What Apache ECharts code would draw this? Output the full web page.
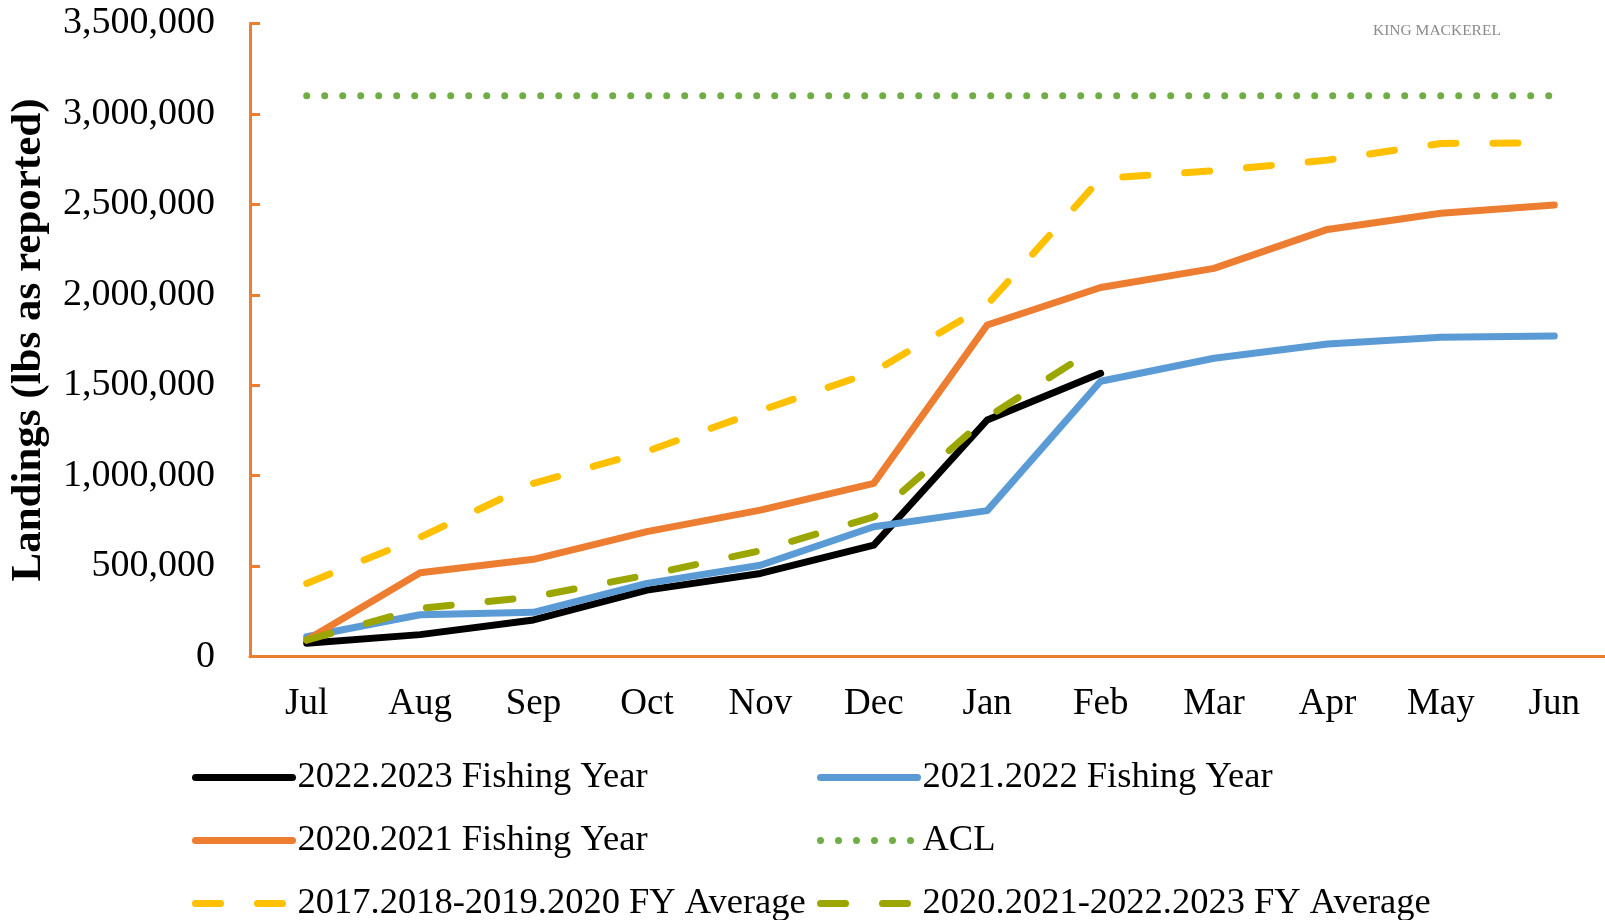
<!DOCTYPE html>
<html>
<head>
<meta charset="utf-8">
<title>King Mackerel Landings</title>
<script src="https://cdn.jsdelivr.net/npm/echarts@6/dist/echarts.min.js"></script>
<style>
  html, body { margin: 0; padding: 0; background: #fff; }
  #main { width: 1605px; height: 920px; }
</style>
</head>
<body>
<div id="main"></div>
<script>
// months of the fishing year
var months = ['Jul', 'Aug', 'Sep', 'Oct', 'Nov', 'Dec', 'Jan', 'Feb', 'Mar', 'Apr', 'May', 'Jun'];
// cumulative landings, lbs as reported
var fy2223 = [74000, 122000, 203000, 368000, 460000, 617000, 1308000, 1566000];
var fy2122 = [110000, 232000, 245000, 405000, 505000, 718000, 807000, 1522000, 1649000, 1728000, 1765000, 1772000];
var fy2021 = [92000, 464000, 538000, 691000, 810000, 958000, 1833000, 2040000, 2146000, 2361000, 2450000, 2496000];
var acl = [3100000, 3100000, 3100000, 3100000, 3100000, 3100000, 3100000, 3100000, 3100000, 3100000, 3100000, 3100000];
var avg1720 = [405000, 660000, 958000, 1135000, 1360000, 1575000, 1945000, 2643000, 2685000, 2744000, 2836000, 2840000];
var avg2023 = [92000, 267000, 331000, 451000, 586000, 773000, 1323000, 1722000];

var serif = "'Liberation Serif', 'Times New Roman', serif";
var axisOrange = '#ED7D31';

function fmt(v){
    return String(v).replace(/\B(?=(\d{3})+(?!\d))/g, ',');
}

function lineSeries(name, data, color, dash){
    return {
        name: name,
        type: 'line',
        data: data,
        symbol: 'none',
        showSymbol: false,
        lineStyle: { color: color, width: 7, type: dash || 'solid', cap: 'round', join: 'round' },
        itemStyle: { color: color },
        emphasis: { disabled: true }
    };
}

var legendText = { fontFamily: serif, fontSize: 36.5, color: '#000', lineHeight: 36 };
var legendBase = {
    orient: 'vertical', top: 759, height: 300, padding: 0,
    itemWidth: 97, itemHeight: 36, itemGap: 26,
    itemStyle: { opacity: 0 },
    lineStyle: { width: 7, cap: 'round' },
    textStyle: legendText, selectedMode: false
};

var option = {
    animation: false,
    backgroundColor: '#fff',
    grid: { left: 250, top: 23.3, width: 1361, height: 633.4, containLabel: false, outerBoundsMode: 'none' },
    legend: [
        Object.assign({}, legendBase, { left: 192, data: ['2022.2023 Fishing Year', '2020.2021 Fishing Year', '2017.2018-2019.2020 FY Average'] }),
        Object.assign({}, legendBase, { left: 817, data: ['2021.2022 Fishing Year', 'ACL', '2020.2021-2022.2023 FY Average'] })
    ],
    xAxis: {
        type: 'category',
        data: months,
        boundaryGap: true,
        axisLine: { lineStyle: { color: axisOrange, width: 3 } },
        axisTick: { inside: true, length: 9, lineStyle: { color: axisOrange, width: 3 } },
        axisLabel: { fontFamily: serif, fontSize: 37, color: '#000', margin: 29 },
        splitLine: { show: false }
    },
    yAxis: {
        type: 'value',
        min: 0, max: 3500000, interval: 500000,
        name: 'Landings (lbs as reported)',
        nameLocation: 'middle',
        nameRotate: 90,
        nameGap: 200,
        nameTextStyle: { fontFamily: serif, fontSize: 43, fontWeight: 'bold', color: '#000' },
        axisLine: { show: true, lineStyle: { color: axisOrange, width: 3 } },
        axisTick: { show: true, inside: true, length: 10, lineStyle: { color: axisOrange, width: 3 } },
        axisLabel: { fontFamily: serif, fontSize: 38, color: '#000', margin: 35, formatter: function(v){ return fmt(v); } },
        splitLine: { show: false }
    },
    graphic: [{
        type: 'text',
        left: 1373, top: 23,
        style: { text: 'KING MACKEREL', font: '15.5px ' + serif, fill: '#8a8a8a' }
    }],
    series: [
        lineSeries('2022.2023 Fishing Year', fy2223, '#000000'),
        lineSeries('2021.2022 Fishing Year', fy2122, '#5B9BD5'),
        lineSeries('2020.2021 Fishing Year', fy2021, '#ED7D31'),
        lineSeries('ACL', acl, '#70AD47', [0, 18]),
        lineSeries('2017.2018-2019.2020 FY Average', avg1720, '#FFC000', [25, 37]),
        lineSeries('2020.2021-2022.2023 FY Average', avg2023, '#9CA600', [25, 37])
    ]
};

var myChart = echarts.init(document.getElementById('main'));
myChart.setOption(option);
</script>
</body>
</html>
